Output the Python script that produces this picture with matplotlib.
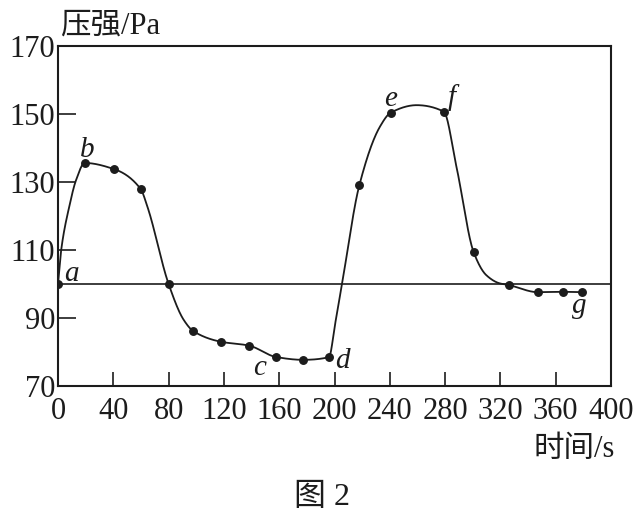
import numpy as np
import matplotlib
matplotlib.use("Agg")
import matplotlib.pyplot as plt

plt.rcParams['font.family'] = ['Liberation Serif', 'Noto Sans CJK SC']

time_s = [0, 19.3, 40.5, 59.7, 80, 98, 118, 138, 158, 177, 196,
          218, 240.7, 279, 300.7, 326, 347, 365, 379]
pressure = [100, 135.6, 133.8, 128.0, 100, 86.1, 83.0, 81.9, 78.5, 77.7, 78.5,
            129.1, 150.4, 150.7, 109.3, 99.7, 97.6, 97.7, 97.6]

# extra points
trace_t = [2.3, 8.1, 13.1, 64.7, 91, 200.5, 205.3, 232.9,
           259.4, 288.2, 309.8, 319.4]
trace_p = [110, 122.7, 130.6, 122.7, 89.4, 88.4, 99.7, 146.3,
           152.6, 134.5, 102.6, 100.2]

# letters next to some of the points: (index into time_s, dx, dy in points)
point_labels = {'a': (0, 10, 2), 'b': (1, 1.5, 4.5), 'c': (8, -12.5, -13),
                'd': (10, 9.5, -8), 'e': (12, 0, 4.5), 'f': (13, 6, 5),
                'g': (18, -2, -15)}

x_ticks = list(range(0, 401, 40))
y_ticks = list(range(70, 171, 20))
ink = '#1c1c1c'


# monotone cubic (pchip) so the smooth line passes every point without overshoot
def pchip(x, y, xs):
    x = np.asarray(x, float)
    y = np.asarray(y, float)
    h = np.diff(x)
    d = np.diff(y) / h
    m = np.zeros_like(y)
    m[0], m[-1] = d[0], d[-1]
    for k in range(1, len(x) - 1):
        if d[k - 1] * d[k] > 0:
            w1 = 2 * h[k] + h[k - 1]
            w2 = h[k] + 2 * h[k - 1]
            m[k] = (w1 + w2) / (w1 / d[k - 1] + w2 / d[k])
    i = np.clip(np.searchsorted(x, xs) - 1, 0, len(x) - 2)
    t = (xs - x[i]) / h[i]
    h00 = 2 * t**3 - 3 * t**2 + 1
    h10 = t**3 - 2 * t**2 + t
    h01 = -2 * t**3 + 3 * t**2
    h11 = t**3 - t**2
    return h00 * y[i] + h10 * h[i] * m[i] + h01 * y[i + 1] + h11 * h[i] * m[i + 1]


def main():
    W, H = 642, 511
    fig = plt.figure(figsize=(W / 100, H / 100), dpi=100)
    ax = fig.add_axes([58 / W, 1 - 386 / H, (611 - 58) / W, (386 - 46) / H])

    order = np.argsort(time_s + trace_t)
    ct = np.array(time_s + trace_t)[order]
    cp = np.array(pressure + trace_p)[order]
    xs = np.linspace(ct[0], ct[-1], 1500)
    ax.plot(xs, pchip(ct, cp, xs), color=ink, lw=1.3)
    ax.plot(time_s, pressure, 'o', color=ink, ms=5.4)
    ax.axhline(100, color=ink, lw=1.2)

    for name, (i, dx, dy) in point_labels.items():
        ax.annotate(name, (time_s[i], pressure[i]), xytext=(dx, dy),
                    textcoords='offset points', ha='center', va='baseline',
                    fontsize=21, fontstyle='italic', color=ink)

    ax.set_xlim(0, 400)
    ax.set_ylim(70, 170)
    ax.set_xticks(x_ticks)
    ax.set_yticks(y_ticks)
    ax.tick_params(axis='both', direction='in', labelsize=22, colors=ink, width=1.2)
    ax.tick_params(axis='x', length=10, pad=8)
    ax.tick_params(axis='y', length=13, pad=2)
    for sp in ax.spines.values():
        sp.set_linewidth(1.5)
        sp.set_color(ink)

    fig.text(60 / W, 1 - 34 / H, '压强/Pa', fontsize=22, color=ink,
             ha='left', va='baseline')
    fig.text(533 / W, 1 - 457 / H, '时间/s', fontsize=22, color=ink,
             ha='left', va='baseline')
    fig.text(322 / W, 1 - 505 / H, '图 2', fontsize=23, color=ink,
             ha='center', va='baseline')

    fig.savefig('out.png', dpi=100)


if __name__ == "__main__":
    main()
